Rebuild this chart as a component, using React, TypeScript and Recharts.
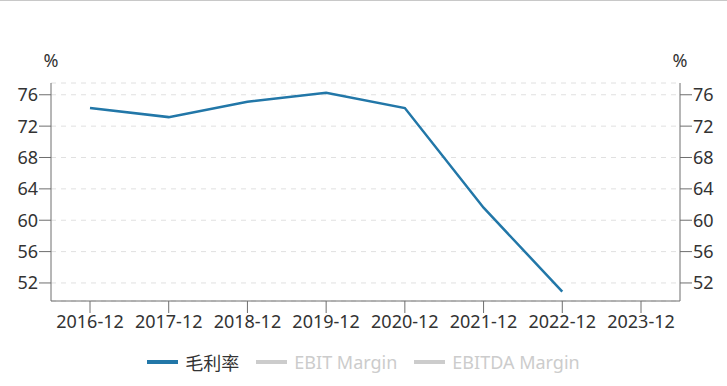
import { CartesianGrid, Legend, Line, LineChart, XAxis, YAxis } from "recharts";

const periodos = [
  "2016-12",
  "2017-12",
  "2018-12",
  "2019-12",
  "2020-12",
  "2021-12",
  "2022-12",
  "2023-12",
];
const margemBruta = [74.3, 73.15, 75.1, 76.25, 74.3, 61.6, 50.9, null];
const margemEbit = [null, null, null, null, null, null, null, null];
const margemEbitda = [null, null, null, null, null, null, null, null];
const nomesSeries = ["毛利率", "EBIT Margin", "EBITDA Margin"];
const ticksY = [52, 56, 60, 64, 68, 72, 76];

const dados = periodos.map((p, i) => ({
  data: p,
  bruta: margemBruta[i],
  ebit: margemEbit[i],
  ebitda: margemEbitda[i],
}));

const fonte = "'Noto Sans', 'Noto Sans CJK SC', sans-serif";

const LegendaCustom = (props: any) => {
  const itens = [...(props.payload || [])].sort(
    (a: any, b: any) => nomesSeries.indexOf(a.value) - nomesSeries.indexOf(b.value)
  );
  return (
    <div
      style={{
        display: "flex",
        justifyContent: "center",
        alignItems: "center",
        height: 25,
        fontSize: 18,
        fontFamily: fonte,
      }}
    >
      {itens.map((item: any, i: number) => {
        const cor = item.inactive ? "#cccccc" : item.color;
        return (
          <div
            key={i}
            style={{
              display: "flex",
              alignItems: "center",
              marginLeft: i === 0 ? 0 : 17,
            }}
          >
            <span
              style={{
                display: "inline-block",
                width: 31,
                height: 4,
                background: cor,
                marginRight: 7,
              }}
            />
            <span style={{ color: item.inactive ? "#cccccc" : "#333333" }}>
              {item.value}
            </span>
          </div>
        );
      })}
    </div>
  );
};

const estiloEixo = { fontSize: 18, fill: "#333333" };

const App = () => {
  return (
    <div
      style={{
        position: "absolute",
        top: 0,
        left: 0,
        width: 727,
        height: 386,
        background: "#ffffff",
        borderTop: "1px solid #c8c8c8",
        boxSizing: "border-box",
        fontFamily: fonte,
      }}
    >
      <span
        style={{
          position: "absolute",
          left: 51,
          top: 47,
          transform: "translateX(-50%)",
          fontSize: 18,
          color: "#333333",
        }}
      >
        %
      </span>
      <span
        style={{
          position: "absolute",
          left: 680,
          top: 47,
          transform: "translateX(-50%)",
          fontSize: 18,
          color: "#333333",
        }}
      >
        %
      </span>
      <div style={{ position: "absolute", top: -1, left: 0 }}>
        <LineChart
          width={727}
          height={386}
          data={dados}
          margin={{ top: 83, right: 0, left: 0, bottom: 20 }}
        >
          <CartesianGrid
            yAxisId="esq"
            vertical={false}
            stroke="#e0e0e0"
            strokeDasharray="5 5"
          />
          <XAxis
            dataKey="data"
            interval={0}
            height={40}
            padding={{ left: 39, right: 39 }}
            tickSize={12}
            tickMargin={2}
            tick={estiloEixo}
            stroke="#6e6e6e"
          />
          <YAxis
            yAxisId="esq"
            width={51}
            domain={[49.7, 77.5]}
            ticks={ticksY}
            tickSize={12}
            tickMargin={1}
            tick={estiloEixo}
            stroke="#6e6e6e"
            allowDataOverflow
          />
          <YAxis
            yAxisId="dir"
            orientation="right"
            width={47}
            domain={[49.7, 77.5]}
            ticks={ticksY}
            tickSize={12}
            tickMargin={1}
            tick={estiloEixo}
            stroke="#6e6e6e"
            allowDataOverflow
          />
          <Legend
            content={<LegendaCustom />}
            verticalAlign="bottom"
            wrapperStyle={{ left: 0, bottom: 12, width: 727 }}
          />
          <Line
            yAxisId="esq"
            type="linear"
            dataKey="bruta"
            name={nomesSeries[0]}
            stroke="#2277a8"
            strokeWidth={2.5}
            dot={false}
            activeDot={false}
            isAnimationActive={false}
          />
          <Line
            yAxisId="esq"
            type="linear"
            dataKey="ebit"
            name={nomesSeries[1]}
            stroke="#2277a8"
            strokeWidth={2.5}
            dot={false}
            hide
            isAnimationActive={false}
          />
          <Line
            yAxisId="esq"
            type="linear"
            dataKey="ebitda"
            name={nomesSeries[2]}
            stroke="#2277a8"
            strokeWidth={2.5}
            dot={false}
            hide
            isAnimationActive={false}
          />
        </LineChart>
      </div>
    </div>
  );
};

export default App;
